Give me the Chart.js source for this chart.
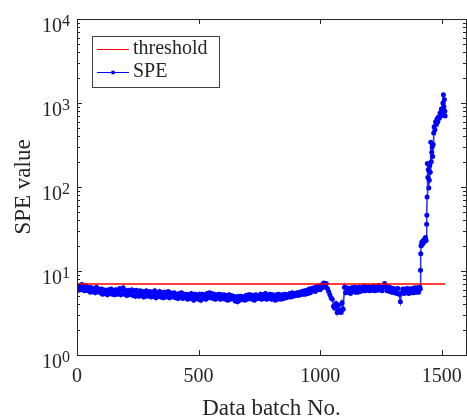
<!DOCTYPE html>
<html>
<head>
<meta charset="utf-8">
<script src="https://cdn.jsdelivr.net/npm/chart.js@4"></script>
<style>
  html, body { margin: 0; padding: 0; background: #fff; overflow: hidden; }
  #speChart { display: block; }
</style>
</head>
<body>
<canvas id="speChart" width="470" height="417"></canvas>
<script>
// tick values
const xTicks = [0, 500, 1000, 1500];
const yTicks = [1, 10, 100, 1000, 10000];
const yMinor = [2, 3, 4, 5, 6, 7, 8, 9, 20, 30, 40, 50, 60, 70, 80, 90, 200, 300, 400, 500, 600, 700, 800, 900, 2000, 3000, 4000, 5000, 6000, 7000, 8000, 9000];

// threshold line
const thresholdX = [0, 1515];
const thresholdY = [7.0, 7.0];

// SPE, batches 0..1410 every 5th batch
const speStep = 5;
const speBase = [
    6.8, 5.9, 6.6, 6.0, 6.9, 6.1, 5.8, 6.7, 6.2, 5.8,
    6.4, 5.6, 6.3, 5.7, 6.2, 5.5, 6.4, 5.8, 6.1, 5.5,
    6.1, 5.3, 6.0, 5.4, 5.9, 5.2, 6.0, 5.5, 6.1, 5.3,
    5.9, 5.2, 6.0, 5.3, 5.8, 6.2, 5.2, 5.9, 6.3, 5.3,
    5.8, 5.1, 5.9, 5.2, 5.7, 6.0, 5.1, 5.8, 5.0, 5.9,
    5.6, 5.0, 5.8, 5.1, 5.7, 4.9, 5.6, 5.8, 5.0, 5.5,
    5.7, 4.9, 5.6, 5.0, 5.8, 4.8, 5.5, 5.0, 5.7, 4.9,
    5.5, 4.8, 5.6, 4.9, 5.4, 5.7, 4.8, 5.5, 4.9, 5.3,
    5.5, 4.8, 5.3, 4.7, 5.4, 4.9, 5.5, 4.7, 5.3, 4.8,
    5.3, 4.6, 5.2, 4.7, 5.4, 4.8, 4.5, 5.3, 4.7, 5.2,
    4.6, 5.3, 4.5, 5.3, 4.7, 5.2, 4.6, 5.4, 4.8, 5.5,
    4.8, 5.4, 4.7, 5.3, 4.6, 5.2, 4.8, 5.3, 4.6, 5.2,
    4.7, 5.2, 4.6, 5.1, 4.5, 5.2, 4.6, 5.1, 4.7, 5.0,
    4.4, 4.9, 4.3, 5.0, 4.5, 5.0, 4.6, 4.9, 4.5, 5.1,
    4.6, 5.2, 4.7, 5.2, 4.6, 5.1, 4.5, 5.2, 4.7, 5.1,
    4.7, 5.3, 4.6, 5.2, 4.7, 5.4, 4.6, 5.2, 4.7, 5.3,
    4.6, 5.2, 4.7, 4.5, 5.2, 4.6, 5.3, 4.7, 4.6, 5.2,
    4.7, 5.3, 4.8, 5.2, 4.9, 5.4, 4.9, 5.5, 5.0, 5.4,
    5.1, 5.5, 5.1, 5.6, 5.2, 5.7, 5.3, 5.8, 5.3, 5.9,
    5.4, 6.1, 5.5, 6.2, 5.8, 6.3, 5.7, 6.5, 6.0, 6.6,
    6.0, 6.8, 6.3, 7.2, 6.7, 7.1, 6.2, 5.7, 5.2, 4.8,
    4.6, 3.8, 3.6, 4.1, 3.2, 3.9, 3.4, 3.2, 4.2, 3.5,
    6.4, 5.5, 6.3, 5.6, 6.2, 5.4, 6.3, 5.7, 6.4, 5.6,
    6.3, 5.6, 6.4, 5.7, 6.3, 5.8, 6.6, 5.8, 6.5, 5.9,
    6.5, 5.8, 6.4, 5.9, 6.6, 5.8, 6.5, 5.9, 6.7, 6.0,
    6.4, 5.8, 6.5, 7.1, 6.4, 5.8, 6.5, 5.7, 6.3, 5.6,
    6.2, 5.5, 6.1, 5.4, 6.2, 5.3, 4.3, 5.5, 6.1, 5.4,
    6.1, 5.5, 6.2, 5.4, 6.1, 5.5, 6.2, 5.5, 6.3, 5.6,
    6.3, 5.6, 6.4
];

// SPE after the fault, batch numbers and values
const spikeBatch = [1412, 1413, 1414, 1415, 1418, 1421, 1424, 1427, 1430, 1433, 1436, 1438, 1439, 1440, 1441, 1443, 1445, 1447, 1449, 1451, 1453, 1455, 1457, 1459, 1461, 1463, 1465, 1467, 1469, 1472, 1475, 1478, 1481, 1484, 1487, 1490, 1493, 1496, 1499, 1502, 1505, 1507, 1509, 1511, 1513, 1514];
const spikeSpe = [6.1, 10.2, 16, 20, 22, 21, 23, 22, 24, 25, 23, 36, 46, 76, 190, 130, 160, 97, 120, 180, 150, 340, 200, 260, 300, 230, 320, 440, 520, 480, 600, 560, 650, 600, 680, 660, 760, 700, 850, 780, 1000, 1250, 900, 1100, 800, 700];

const FONT = '"Liberation Serif", "Times New Roman", serif';
const INK = '#262626';

const spePoints = speBase.map((v, i) => ({ x: i * speStep, y: v }))
    .concat(spikeBatch.map((b, i) => ({ x: b, y: spikeSpe[i] })));
const thrPoints = thresholdX.map((x, i) => ({ x: x, y: thresholdY[i] }));

// box, inner ticks, y labels with exponent, axis titles, legend
const matlabAxes = {
    id: 'matlabAxes',
    afterDatasetsDraw(chart) {
        const ctx = chart.ctx;
        const a = chart.chartArea;
        const xs = chart.scales.x;
        const ys = chart.scales.y;
        ctx.save();
        ctx.strokeStyle = INK;
        ctx.lineWidth = 1;
        ctx.beginPath();
        xTicks.forEach(v => {
            const px = Math.round(xs.getPixelForValue(v)) + 0.5;
            ctx.moveTo(px, a.bottom); ctx.lineTo(px, a.bottom - 5);
            ctx.moveTo(px, a.top); ctx.lineTo(px, a.top + 5);
        });
        yTicks.forEach(v => {
            const py = Math.round(ys.getPixelForValue(v)) + 0.5;
            ctx.moveTo(a.left, py); ctx.lineTo(a.left + 5, py);
            ctx.moveTo(a.right, py); ctx.lineTo(a.right - 5, py);
        });
        yMinor.forEach(v => {
            const py = Math.round(ys.getPixelForValue(v)) + 0.5;
            ctx.moveTo(a.left, py); ctx.lineTo(a.left + 3, py);
            ctx.moveTo(a.right, py); ctx.lineTo(a.right - 3, py);
        });
        ctx.stroke();
        ctx.strokeRect(Math.round(a.left) + 0.5, Math.round(a.top) + 0.5,
            Math.round(a.right - a.left), Math.round(a.bottom - a.top));

        // y tick labels 10^n
        ctx.fillStyle = INK;
        ctx.textBaseline = 'alphabetic';
        yTicks.forEach(v => {
            const py = ys.getPixelForValue(v);
            const exp = String(Math.round(Math.log10(v)));
            ctx.font = '16px ' + FONT;
            const ew = ctx.measureText(exp).width;
            const right = a.left - 7;
            ctx.textAlign = 'left';
            ctx.fillText(exp, right - ew, py + 7);
            ctx.font = '20px ' + FONT;
            ctx.textAlign = 'right';
            ctx.fillText('10', right - ew, py + 12.5);
        });

        // axis titles
        ctx.font = '23px ' + FONT;
        ctx.textAlign = 'center';
        ctx.fillText('Data batch No.', (a.left + a.right) / 2, 415);
        ctx.save();
        ctx.translate(24, (a.top + a.bottom) / 2);
        ctx.rotate(-Math.PI / 2);
        ctx.textBaseline = 'middle';
        ctx.fillText('SPE value', 0, 0);
        ctx.restore();

        // legend
        const lx = 92, ly = 36, lw = 127, lh = 51;
        ctx.fillStyle = '#fff';
        ctx.fillRect(lx, ly, lw, lh);
        ctx.strokeStyle = '#404040';
        ctx.strokeRect(lx + 0.5, ly + 0.5, lw, lh);
        ctx.lineWidth = 1;
        ctx.strokeStyle = '#ff0000';
        ctx.beginPath(); ctx.moveTo(97, 49.5); ctx.lineTo(129, 49.5); ctx.stroke();
        ctx.strokeStyle = '#0000ff';
        ctx.beginPath(); ctx.moveTo(97, 72.5); ctx.lineTo(129, 72.5); ctx.stroke();
        ctx.fillStyle = '#0000ff';
        ctx.beginPath(); ctx.arc(113, 72.5, 2, 0, Math.PI * 2); ctx.fill();
        ctx.fillStyle = INK;
        ctx.font = '20px ' + FONT;
        ctx.textAlign = 'left';
        ctx.textBaseline = 'middle';
        ctx.fillText('threshold', 133, 49);
        ctx.fillText('SPE', 133, 72);
        ctx.restore();
    }
};

new Chart(document.getElementById('speChart').getContext('2d'), {
    type: 'line',
    data: {
        datasets: [
            {
                label: 'threshold',
                data: thrPoints,
                borderColor: '#ff0000',
                borderWidth: 1.3,
                pointRadius: 0,
                tension: 0
            },
            {
                label: 'SPE',
                data: spePoints,
                borderColor: 'rgba(0, 0, 255, 0.8)',
                backgroundColor: '#0000ff',
                borderWidth: 1.6,
                pointRadius: 2.5,
                pointBorderWidth: 0,
                pointBackgroundColor: '#0000ff',
                tension: 0
            }
        ]
    },
    options: {
        responsive: false,
        animation: false,
        events: [],
        layout: { padding: { top: 19, right: 2, left: 0, bottom: 0 } },
        scales: {
            x: {
                type: 'linear',
                min: 0,
                max: 1600,
                grid: { display: false },
                border: { display: false },
                afterBuildTicks: s => { s.ticks = xTicks.map(v => ({ value: v })); },
                afterFit: s => { s.height = 62; },
                ticks: {
                    autoSkip: false,
                    maxRotation: 0,
                    padding: 2,
                    color: INK,
                    font: { family: FONT, size: 20 },
                    callback: v => String(v)
                }
            },
            y: {
                type: 'logarithmic',
                min: 1,
                max: 10000,
                grid: { display: false },
                border: { display: false },
                afterFit: s => { s.width = 77; },
                ticks: { display: false }
            }
        },
        plugins: {
            legend: { display: false },
            tooltip: { enabled: false }
        }
    },
    plugins: [matlabAxes]
});
</script>
</body>
</html>
